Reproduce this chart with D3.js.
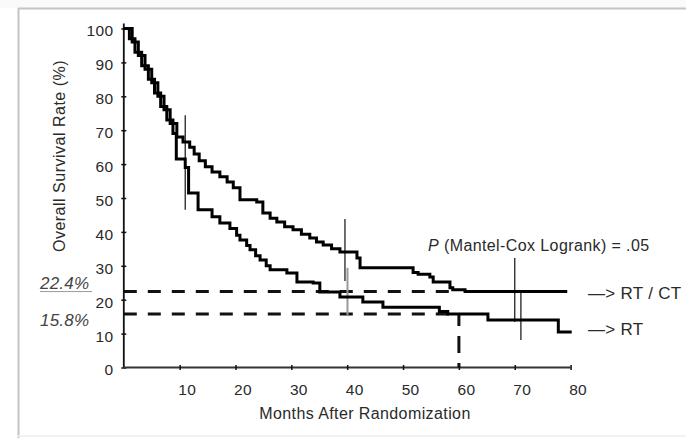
<!DOCTYPE html>
<html>
<head>
<meta charset="utf-8">
<script src="https://cdn.jsdelivr.net/npm/d3@7"></script>
<style>
  html, body { margin: 0; padding: 0; background: #fff; }
  svg { display: block; }
  text { font-family: "Liberation Sans", Arial, sans-serif; fill: #2a2a2a; }
</style>
</head>
<body>
<svg id="chart" width="686" height="438"></svg>
<script>
// ---------------- data ----------------
const xTicks = [10, 20, 30, 40, 50, 60, 70, 80];
const yTicks = [0, 10, 20, 30, 40, 50, 60, 70, 80, 90, 100];

// RT / CT arm (step starts: month, survival %)
const rtctMonths = [0, 1.5, 2.6, 3.8, 5.0, 6.1, 7.2, 8.3, 9.5, 10.6, 11.8, 12.6, 13.5, 14.6, 15.8, 17.2, 18.5, 19.6, 20.8,
  23.8, 24.9, 26.2, 27.4, 28.8, 30.3, 31.8, 33.3, 34.5, 35.7, 37.2, 38.7, 41.75, 42.3, 51.8, 52.7, 54.8, 55.4, 58.4, 58.9, 61.1, 79.4];
const rtctSurv = [100, 96, 92, 88, 84, 80, 76, 72, 68, 66.5, 65, 63, 61, 59.2, 57.7, 56.3, 54.7, 53, 49.5,
  48.8, 45.6, 44, 42.9, 41.5, 40.6, 39.3, 38.2, 37, 36.1, 35, 34.1, 32.3, 29.4, 28, 27.5, 26.7, 25.2, 23.5, 22.9, 22.4, 22.4];

// RT arm
const rtMonths = [0, 1.0, 2.0, 3.2, 4.4, 5.5, 6.6, 7.7, 8.8, 9.4, 11.0, 11.6, 13.3, 15.8, 17.2, 19.0, 20.2, 20.8, 22.0, 22.6,
  23.6, 24.4, 25.5, 26.2, 29.2, 31.0, 33.9, 35.1, 38.7, 42.8, 46.4, 56.5, 58.0, 65.2, 77.8, 80.2];
const rtSurv = [100, 97, 93, 89, 85, 81, 77, 73, 69, 61.5, 59, 51.5, 46.5, 44.5, 42.6, 41, 39, 37.6, 36, 34.7,
  33, 31.7, 30, 28.8, 27.9, 25.2, 24.9, 22.3, 20.8, 19.3, 17.8, 16.5, 15.8, 14.0, 10.5, 10.5];

// vertical interval bars (month, low %, high %)
const ciMonths = [11.0, 39.6, 40.05, 70.0, 71.1];
const ciLow = [46.5, 25.5, 15.5, 13.4, 8.1];
const ciHigh = [74.4, 43.8, 29.4, 32.3, 22.0];

// 5-year reference values
const refMonth = 60;
const refRTCT = 22.4;
const refRT = 15.8;
const refLabels = ["22.4%", "15.8%"];

// ---------------- chart ----------------
const svg = d3.select("#chart");

// frame
svg.append("rect").attr("x", 0).attr("y", 0).attr("width", 686).attr("height", 8).attr("fill", "#fafafa");
svg.append("line").attr("x1", 18).attr("x2", 686).attr("y1", 8.5).attr("y2", 8.5)
  .attr("stroke", "#c4c4c4").attr("stroke-width", 2);
svg.append("line").attr("x1", 18.5).attr("x2", 18.5).attr("y1", 8).attr("y2", 438)
  .attr("stroke", "#c4c4c4").attr("stroke-width", 2);
svg.append("line").attr("x1", 18).attr("x2", 686).attr("y1", 436).attr("y2", 436)
  .attr("stroke", "#eeeeee").attr("stroke-width", 1.5);

const x = d3.scaleLinear().domain([0, 80]).range([123.8, 570.6]);
const y = d3.scaleLinear().domain([0, 100]).range([367.5, 28.5]);

// y axis
const yAxis = svg.append("g").attr("transform", `translate(${x(0)},0)`)
  .call(d3.axisLeft(y).tickValues(yTicks).tickSize(3).tickSizeOuter(0));
yAxis.select(".domain").attr("stroke", "#111").attr("stroke-width", 1.8)
  .attr("d", `M0,${y(0)}V${y(101.5)}`);
yAxis.selectAll(".tick line").attr("x1", -2.5).attr("x2", 2.5).attr("stroke", "#111").attr("stroke-width", 1.5);
yAxis.selectAll(".tick text").attr("x", -10.5).attr("dy", "0.48em")
  .style("font-size", "15.5px").style("fill", "#2a2a2a").style("letter-spacing", "0.3px");

// x axis
const xAxis = svg.append("g").attr("transform", `translate(0,${y(0)})`)
  .call(d3.axisBottom(x).tickValues(xTicks).tickSize(3).tickSizeOuter(0));
xAxis.select(".domain").attr("stroke", "#333").attr("stroke-width", 2)
  .attr("d", `M${x(0)},0H${x(80)}`);
xAxis.selectAll(".tick line").attr("y1", -2.5).attr("y2", 2.5).attr("stroke", "#111").attr("stroke-width", 1.5);
xAxis.selectAll(".tick text").attr("x", 7).attr("y", 16)
  .style("font-size", "15.5px").style("fill", "#2a2a2a").style("letter-spacing", "0.3px");

// axis titles
svg.append("text").attr("x", 365).attr("y", 419).attr("text-anchor", "middle")
  .style("font-size", "16px").style("letter-spacing", "0.4px").text("Months After Randomization");
svg.append("text").attr("transform", "translate(65,156) rotate(-90)").attr("text-anchor", "middle")
  .style("font-size", "16px").style("letter-spacing", "0.5px").text("Overall Survival Rate (%)");

// reference dashed lines
const dashG = svg.append("g").attr("fill", "none").attr("stroke", "#111").attr("stroke-width", 3)
  .attr("stroke-dasharray", "13,11");
dashG.append("line").attr("x1", x(0)).attr("x2", x(refMonth)).attr("y1", y(refRTCT)).attr("y2", y(refRTCT));
dashG.append("line").attr("x1", x(0)).attr("x2", x(refMonth)).attr("y1", y(refRT)).attr("y2", y(refRT));
dashG.append("line").attr("x1", x(refMonth)).attr("x2", x(refMonth)).attr("y1", y(refRT)).attr("y2", y(0))
  .attr("stroke-dasharray", "17,10").attr("stroke-dashoffset", 5);

// reference labels
svg.append("text").attr("x", 40).attr("y", y(refRTCT) - 3).style("font-size", "17px").style("font-style", "italic")
  .style("letter-spacing", "0.2px").style("fill", "#444").text(refLabels[0]);
svg.append("line").attr("x1", 40).attr("x2", 92).attr("y1", y(refRTCT)).attr("y2", y(refRTCT))
  .attr("stroke", "#999").attr("stroke-width", 1);
svg.append("text").attr("x", 40).attr("y", y(refRT) + 12).style("font-size", "17px").style("font-style", "italic")
  .style("letter-spacing", "0.2px").style("fill", "#444").text(refLabels[1]);

// interval bars
svg.append("g").selectAll("line").data(ciMonths).join("line")
  .attr("x1", d => x(d)).attr("x2", d => x(d))
  .attr("y1", (d, i) => y(ciHigh[i])).attr("y2", (d, i) => y(ciLow[i]))
  .attr("stroke", (d, i) => i === 2 ? "#999" : "#222")
  .attr("stroke-width", (d, i) => i === 2 ? 2 : 1.3);

// survival curves
const line = d3.line().x(d => x(d[0])).y(d => y(d[1])).curve(d3.curveStepAfter);
const rtct = rtctMonths.map((m, i) => [m, rtctSurv[i]]);
const rt = rtMonths.map((m, i) => [m, rtSurv[i]]);
svg.append("path").datum(rtct).attr("d", line).attr("fill", "none")
  .attr("stroke", "#000").attr("stroke-width", 3).attr("stroke-linejoin", "miter");
svg.append("path").datum(rt).attr("d", line).attr("fill", "none")
  .attr("stroke", "#000").attr("stroke-width", 3).attr("stroke-linejoin", "miter");

// annotations
const pText = svg.append("text").attr("x", 428).attr("y", 251).style("font-size", "16px").style("letter-spacing", "0.4px");
pText.append("tspan").style("font-style", "italic").text("P");
pText.append("tspan").text(" (Mantel-Cox Logrank) = .05");

svg.append("text").attr("x", 588).attr("y", 299).style("font-size", "17px").style("letter-spacing", "0.3px").text("—> RT / CT");
svg.append("text").attr("x", 588).attr("y", 335).style("font-size", "17px").style("letter-spacing", "0.3px").text("—> RT");
</script>
</body>
</html>
